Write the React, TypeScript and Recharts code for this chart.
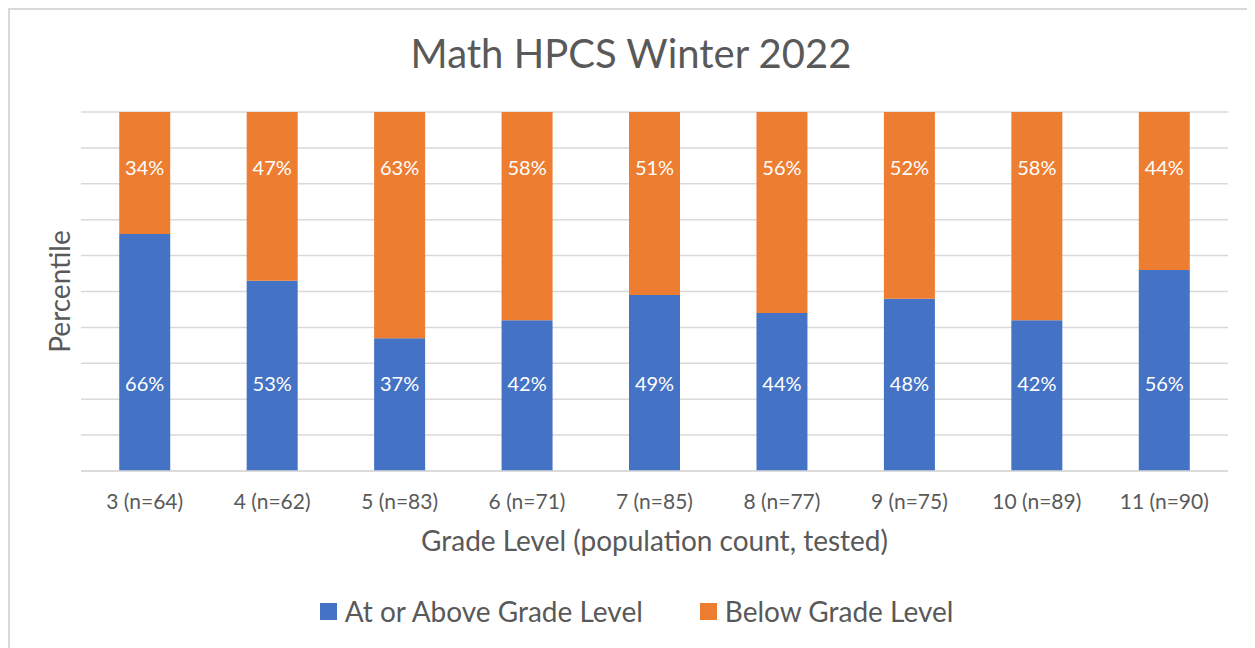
import { Bar, BarChart, CartesianGrid, LabelList, Legend, XAxis, YAxis } from "recharts";

const grades = ["3 (n=64)", "4 (n=62)", "5 (n=83)", "6 (n=71)", "7 (n=85)", "8 (n=77)", "9 (n=75)", "10 (n=89)", "11 (n=90)"];
const atOrAbove = [66, 53, 37, 42, 49, 44, 48, 42, 56];
const below = [34, 47, 63, 58, 51, 56, 52, 58, 44];
const percentTicks = [0, 10, 20, 30, 40, 50, 60, 70, 80, 90, 100];

const data = grades.map((g, i) => ({
    grade: g,
    atOrAbove: atOrAbove[i],
    below: below[i],
}));

const BLUE = "#4472C4";
const ORANGE = "#ED7D31";
const TEXT = "#595959";
const GRID = "#d9d9d9";

// excel puts the labels at roughly the same height in every column
const barLabel = (offset: number, fromTop: boolean) => (props: any) => {
    const { x, y, width, height, value } = props;
    const unit = height / value;
    const cy = fromTop ? y + offset * unit : y + height - offset * unit;
    return (
        <text x={x + width / 2} y={cy} fill="#fff" fontSize={20} textAnchor="middle" dominantBaseline="central">
            {value}%
        </text>
    );
};

const GradeTick = (props: any) => {
    const { x, y, payload } = props;
    return (
        <text x={x} y={y + 21} fill={TEXT} fontSize={21} textAnchor="middle" dominantBaseline="central">
            {payload.value}
        </text>
    );
};

const LegendBox = () => (
    <div style={{ display: "flex", justifyContent: "center", alignItems: "center", height: 40, gap: 57, paddingLeft: 11 }}>
        {[
            { name: "At or Above Grade Level", color: BLUE },
            { name: "Below Grade Level", color: ORANGE },
        ].map((item) => (
            <div key={item.name} style={{ display: "flex", alignItems: "center" }}>
                <span style={{ width: 17, height: 17, background: item.color, marginRight: 8, display: "inline-block" }} />
                <span style={{ fontSize: 28, color: TEXT }}>{item.name}</span>
            </div>
        ))}
    </div>
);

export default function App() {
    return (
        <div
            style={{
                position: "relative",
                width: 1242,
                height: 650,
                border: `2px solid ${GRID}`,
                background: "#fff",
                fontFamily: "Lato, sans-serif",
            }}
        >
            <div
                style={{
                    position: "absolute",
                    top: 23,
                    left: 0,
                    width: "100%",
                    textAlign: "center",
                    fontSize: 40,
                    lineHeight: "40px",
                    color: TEXT,
                }}
            >
                Math HPCS Winter 2022
            </div>
            <BarChart
                width={1242}
                height={640}
                data={data}
                margin={{ top: 102, right: 24, left: 0, bottom: 49 }}
                barCategoryGap="30%"
            >
                <CartesianGrid vertical={false} stroke={GRID} strokeWidth={1.5} horizontalValues={percentTicks} />
                <XAxis
                    dataKey="grade"
                    height={90}
                    axisLine={{ stroke: GRID, strokeWidth: 1.5 }}
                    tickLine={false}
                    tick={<GradeTick />}
                    interval={0}
                    label={{
                        value: "Grade Level (population count, tested)",
                        content: (p: any) => {
                            const vb = p.viewBox;
                            return (
                                <text x={vb.x + vb.width / 2} y={vb.y + 69} fill={TEXT} fontSize={28} textAnchor="middle" dominantBaseline="central">
                                    Grade Level (population count, tested)
                                </text>
                            );
                        },
                    }}
                />
                <YAxis
                    width={71}
                    domain={[0, 100]}
                    ticks={percentTicks}
                    tick={() => <g />}
                    axisLine={false}
                    tickLine={false}
                    label={{
                        value: "Percentile",
                        content: (p: any) => {
                            const vb = p.viewBox;
                            const cx = vb.x + 49;
                            const cy = vb.y + vb.height / 2;
                            return (
                                <text x={cx} y={cy} fill={TEXT} fontSize={28} textAnchor="middle" dominantBaseline="central" transform={`rotate(-90 ${cx} ${cy})`}>
                                    Percentile
                                </text>
                            );
                        },
                    }}
                />
                <Legend content={<LegendBox />} wrapperStyle={{ left: 0, width: 1242, bottom: 19 }} />
                <Bar dataKey="atOrAbove" name="At or Above Grade Level" stackId="a" fill={BLUE} isAnimationActive={false}>
                    <LabelList dataKey="atOrAbove" content={barLabel(24.5, false)} />
                </Bar>
                <Bar dataKey="below" name="Below Grade Level" stackId="a" fill={ORANGE} isAnimationActive={false}>
                    <LabelList dataKey="below" content={barLabel(15.3, true)} />
                </Bar>
            </BarChart>
        </div>
    );
}
